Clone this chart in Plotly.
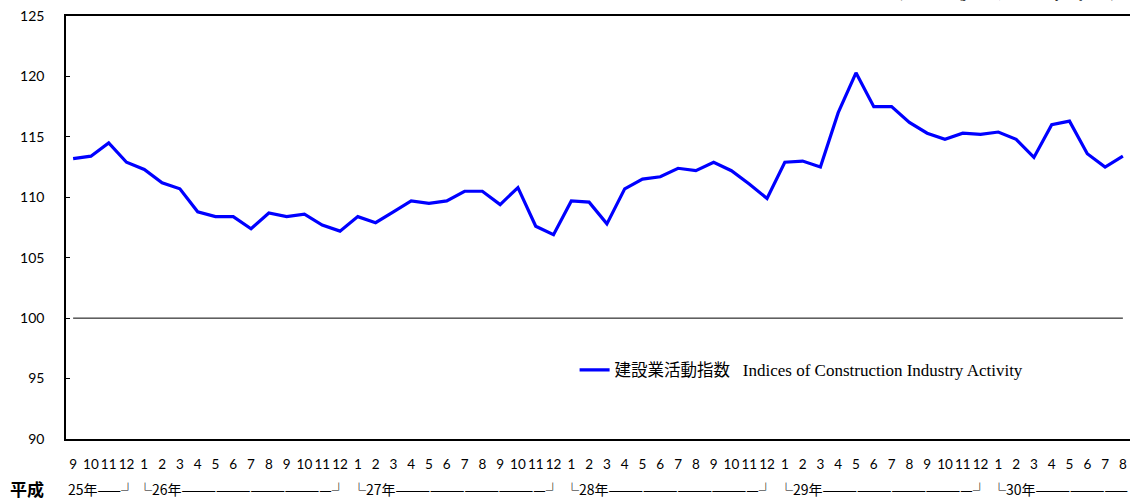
import plotly.graph_objects as go

# ---------------- data ----------------
month_labels = ["9", "10", "11", "12",
                "1", "2", "3", "4", "5", "6", "7", "8", "9", "10", "11", "12",
                "1", "2", "3", "4", "5", "6", "7", "8", "9", "10", "11", "12",
                "1", "2", "3", "4", "5", "6", "7", "8", "9", "10", "11", "12",
                "1", "2", "3", "4", "5", "6", "7", "8", "9", "10", "11", "12",
                "1", "2", "3", "4", "5", "6", "7", "8"]

index_values = [113.2, 113.4, 114.5, 112.9,
                112.3, 111.2, 110.7, 108.8, 108.4, 108.4, 107.4, 108.7, 108.4, 108.6, 107.7, 107.2,
                108.4, 107.9, 108.8, 109.7, 109.5, 109.7, 110.5, 110.5, 109.4, 110.8, 107.6, 106.9,
                109.7, 109.6, 107.8, 110.7, 111.5, 111.7, 112.4, 112.2, 112.9, 112.2, 111.1, 109.9,
                112.9, 113.0, 112.5, 117.0, 120.3, 117.5, 117.5, 116.2, 115.3, 114.8, 115.3, 115.2,
                115.4, 114.8, 113.3, 116.0, 116.3, 113.6, 112.5, 113.4]

base_value = 100
year_texts = ["25年——┘",
              "└26年—————————————┘",
              "└27年—————————————┘",
              "└28年—————————————┘",
              "└29年—————————————┘",
              "└30年————————"]
era_label = "平成"
series_name_jp = "建設業活動指数"
series_name_en = "Indices of Construction Industry Activity"
note_text = "(2010 average=100, Seasonally Adjusted)"
y_ticks = [90, 95, 100, 105, 110, 115, 120, 125]

x = list(range(len(month_labels)))

NUM_FONT = "Lato, Noto Sans, sans-serif"
CJK_FONT = "Noto Sans CJK JP, sans-serif"

fig = go.Figure()

# reference line at 100
fig.add_trace(go.Scatter(
    x=x, y=[base_value] * len(x), mode="lines",
    line=dict(color="black", width=1), showlegend=False, hoverinfo="skip"))

fig.add_trace(go.Scatter(
    x=x, y=index_values, mode="lines",
    line=dict(color="#0000FF", width=3.2),
    name=(f"<span style='font-family:Noto Sans CJK JP'>{series_name_jp}</span>"
          f"<span style='font-family:Liberation Serif;font-size:17px'>&nbsp;&nbsp;&nbsp;{series_name_en}</span>")))

# year row annotations
starts = [i for i, m in enumerate(month_labels) if m == "1"]
year_x = [-0.38] + [s - 0.45 for s in starts]
for tx, xx in zip(year_texts, year_x):
    fig.add_annotation(x=xx, xref="x", y=-0.118, yref="paper", text=tx,
                       showarrow=False, xanchor="left", yanchor="middle",
                       font=dict(family=CJK_FONT, size=14, color="black"))

fig.add_annotation(x=-0.0366, xref="paper", y=-0.118, yref="paper",
                   text=f"<b>{era_label}</b>", showarrow=False,
                   xanchor="center", yanchor="middle",
                   font=dict(family=CJK_FONT, size=17, color="black"))

fig.add_annotation(x=0.988, xref="paper", y=1.0307, yref="paper",
                   text=note_text, showarrow=False,
                   xanchor="right", yanchor="bottom",
                   font=dict(family="Liberation Serif", size=13, color="black"))

fig.update_layout(
    width=1131, height=503,
    margin=dict(l=66, r=1, t=16, b=64),
    plot_bgcolor="white", paper_bgcolor="white",
    font=dict(family=NUM_FONT, size=14, color="black"),
    legend=dict(x=0.478, y=0.163, xanchor="left", yanchor="middle",
                bgcolor="rgba(0,0,0,0)", borderwidth=0,
                font=dict(family=CJK_FONT, size=16.5, color="black")),
    xaxis=dict(range=[-0.4, 59.4], tickmode="array", tickvals=x,
               ticktext=month_labels, ticks="", showgrid=False, zeroline=False,
               showline=True, linecolor="black", linewidth=1.5, mirror=True,
               tickfont=dict(family=NUM_FONT, size=13.5, color="black"),
               ticklabelstandoff=12),
    yaxis=dict(range=[90, 125], tickmode="array", tickvals=y_ticks,
               ticks="inside", ticklen=4, tickwidth=1, tickcolor="black",
               showgrid=False, zeroline=False,
               showline=True, linecolor="black", linewidth=1.5,
               tickfont=dict(family=NUM_FONT, size=14, color="black"),
               ticklabelstandoff=17),
)

fig.write_html("out.html", config={"displayModeBar": False},
               post_script="document.body.style.margin='0';document.body.style.overflow='hidden';")
